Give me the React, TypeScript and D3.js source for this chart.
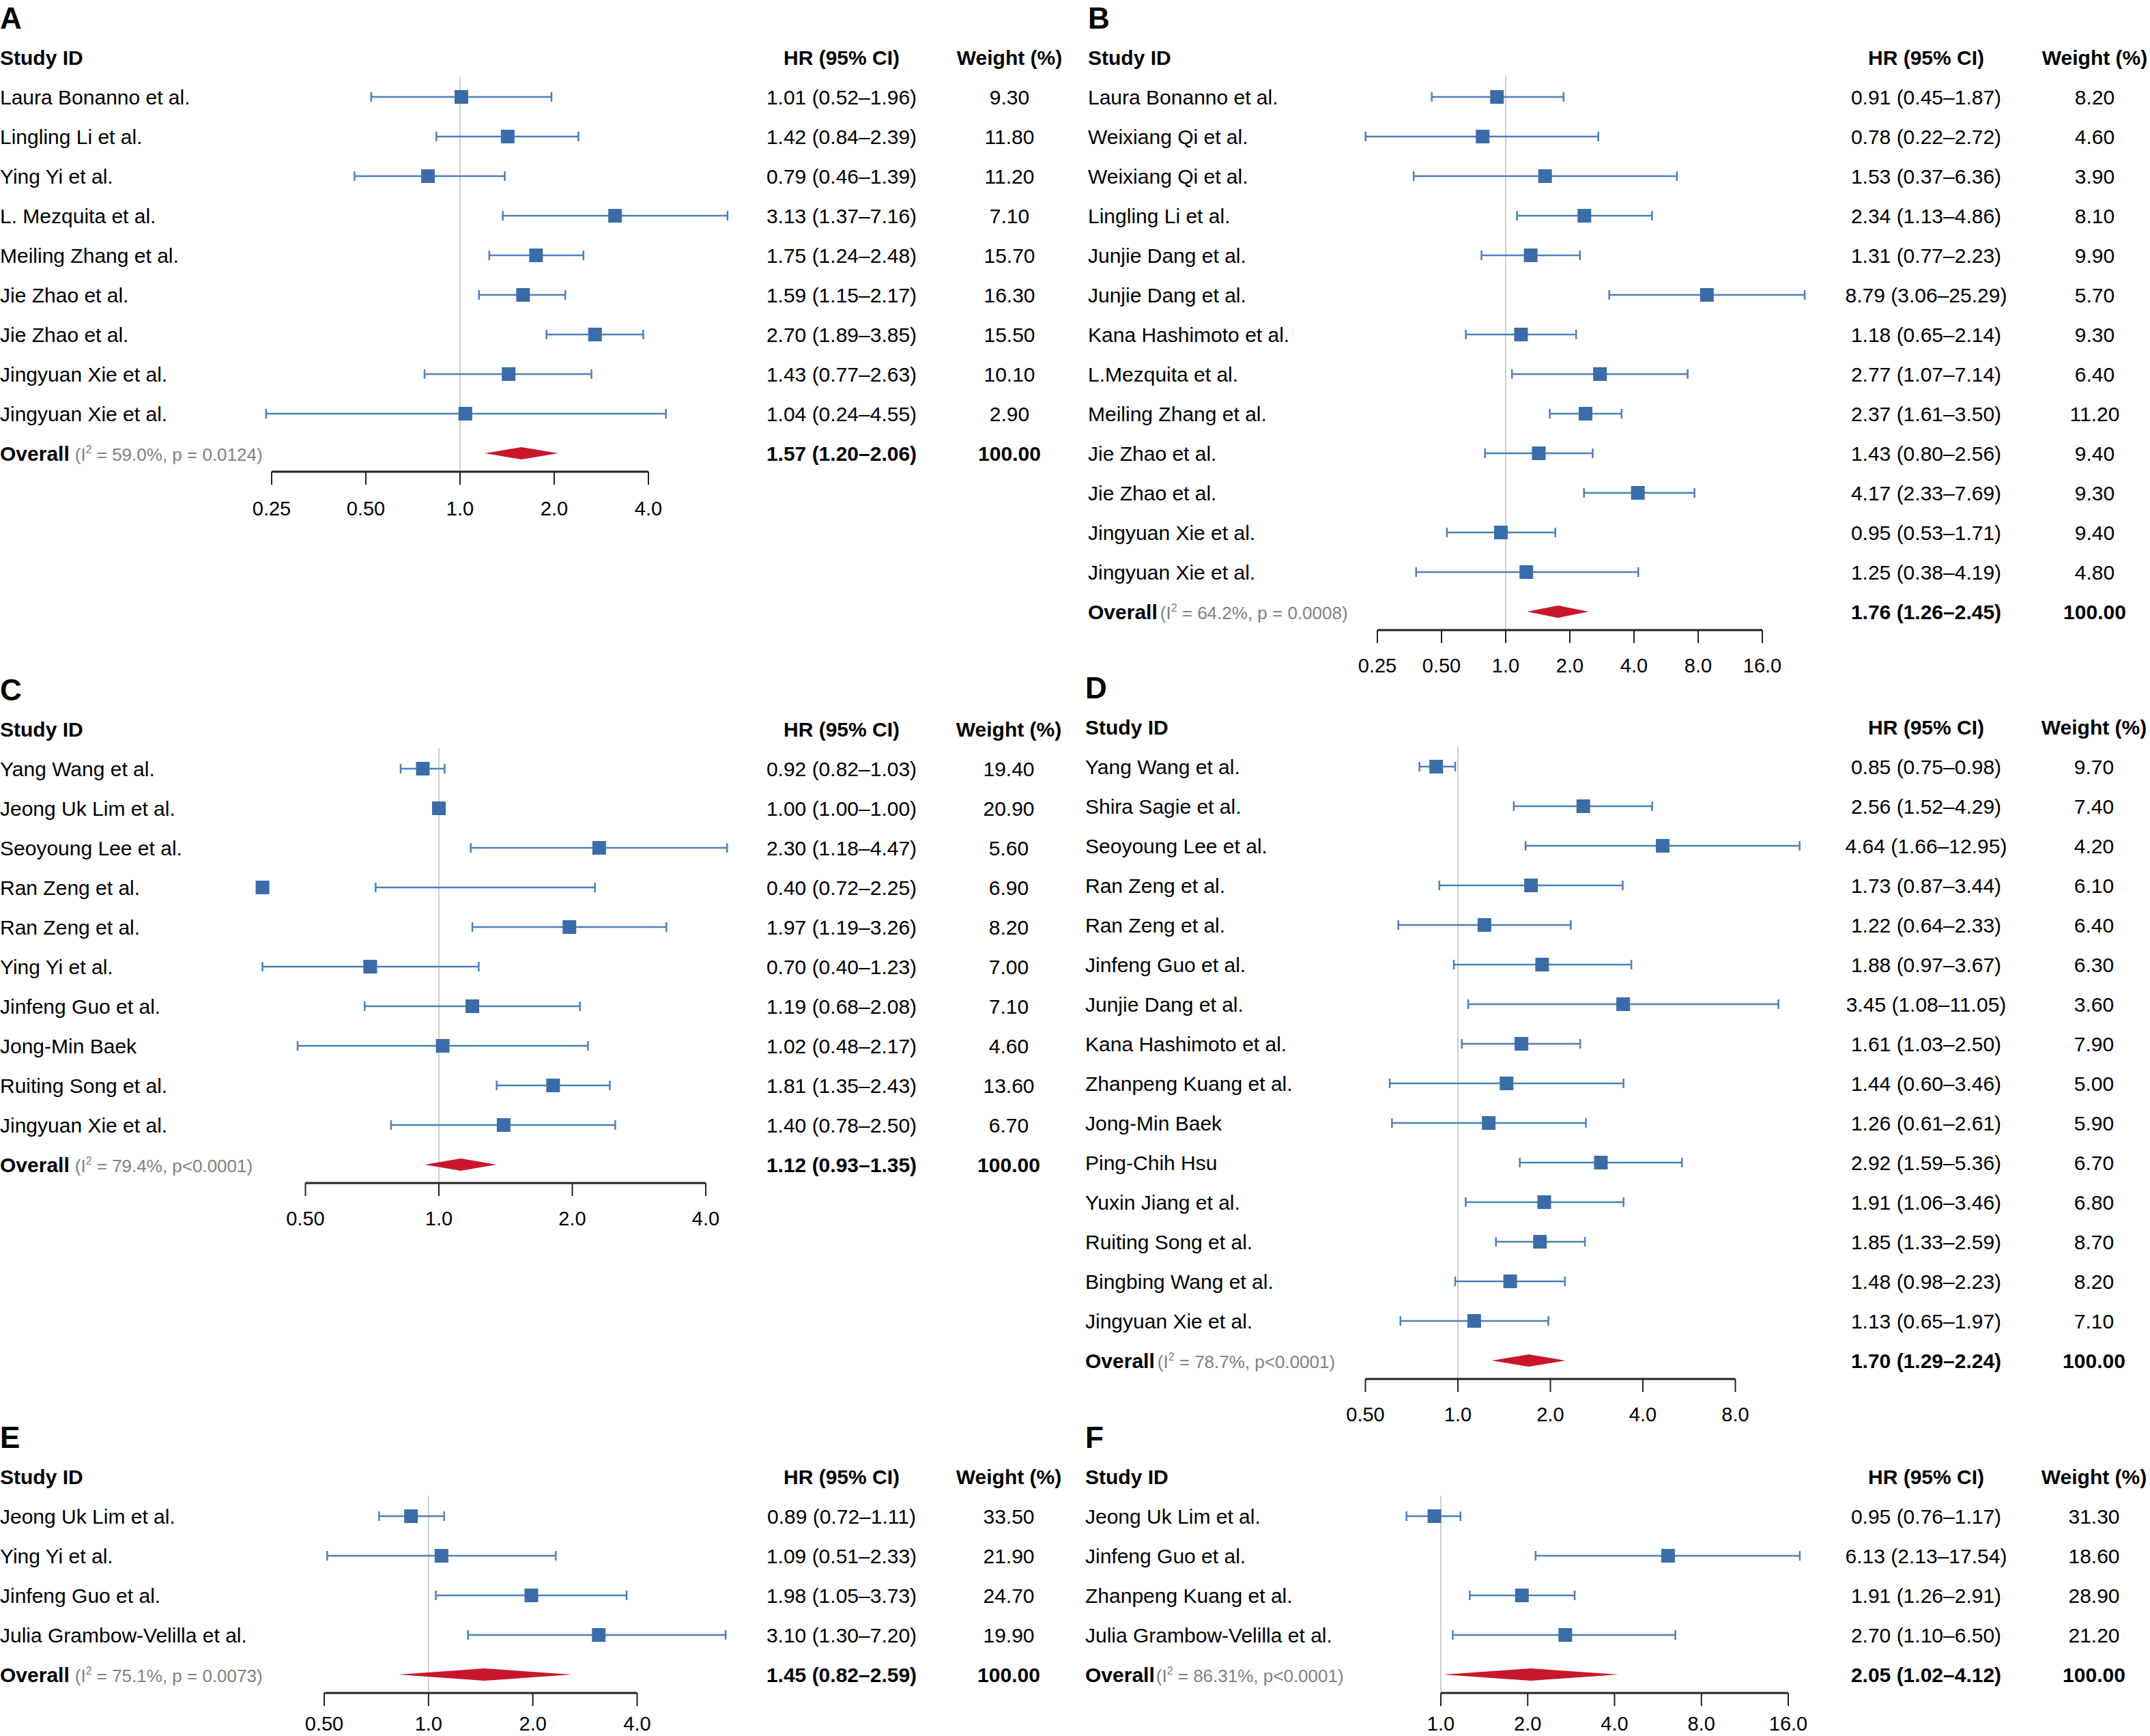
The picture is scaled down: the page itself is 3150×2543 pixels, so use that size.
import React from 'react';
import * as d3 from 'd3';

// ---- Panel A ----
const studiesA = ['Laura Bonanno et al.', 'Lingling Li et al.', 'Ying Yi et al.', 'L. Mezquita et al.', 'Meiling Zhang et al.', 'Jie Zhao et al.', 'Jie Zhao et al.', 'Jingyuan Xie et al.', 'Jingyuan Xie et al.'];
const hrA = [1.01, 1.42, 0.79, 3.13, 1.75, 1.59, 2.70, 1.43, 1.04];
const lowA = [0.52, 0.84, 0.46, 1.37, 1.24, 1.15, 1.89, 0.77, 0.24];
const highA = [1.96, 2.39, 1.39, 7.16, 2.48, 2.17, 3.85, 2.63, 4.55];
const weightA = [9.30, 11.80, 11.20, 7.10, 15.70, 16.30, 15.50, 10.10, 2.90];
const overallA = [1.57, 1.20, 2.06];
const hetA = ['59.0%, p = 0.0124'];
const ticksA = [0.25, 0.5, 1, 2, 4];
const tickLabelsA = ['0.25', '0.50', '1.0', '2.0', '4.0'];

// ---- Panel B ----
const studiesB = ['Laura Bonanno et al.', 'Weixiang Qi et al.', 'Weixiang Qi et al.', 'Lingling Li et al.', 'Junjie Dang et al.', 'Junjie Dang et al.', 'Kana Hashimoto et al.', 'L.Mezquita et al.', 'Meiling Zhang et al.', 'Jie Zhao et al.', 'Jie Zhao et al.', 'Jingyuan Xie et al.', 'Jingyuan Xie et al.'];
const hrB = [0.91, 0.78, 1.53, 2.34, 1.31, 8.79, 1.18, 2.77, 2.37, 1.43, 4.17, 0.95, 1.25];
const lowB = [0.45, 0.22, 0.37, 1.13, 0.77, 3.06, 0.65, 1.07, 1.61, 0.80, 2.33, 0.53, 0.38];
const highB = [1.87, 2.72, 6.36, 4.86, 2.23, 25.29, 2.14, 7.14, 3.50, 2.56, 7.69, 1.71, 4.19];
const weightB = [8.20, 4.60, 3.90, 8.10, 9.90, 5.70, 9.30, 6.40, 11.20, 9.40, 9.30, 9.40, 4.80];
const overallB = [1.76, 1.26, 2.45];
const hetB = ['64.2%, p = 0.0008'];
const ticksB = [0.25, 0.5, 1, 2, 4, 8, 16];
const tickLabelsB = ['0.25', '0.50', '1.0', '2.0', '4.0', '8.0', '16.0'];

// ---- Panel C ----
const studiesC = ['Yang Wang et al.', 'Jeong Uk Lim et al.', 'Seoyoung Lee et al.', 'Ran Zeng et al.', 'Ran Zeng et al.', 'Ying Yi et al.', 'Jinfeng Guo et al.', 'Jong-Min Baek', 'Ruiting Song et al.', 'Jingyuan Xie et al.'];
const hrC = [0.92, 1.00, 2.30, 0.40, 1.97, 0.70, 1.19, 1.02, 1.81, 1.40];
const lowC = [0.82, 1.00, 1.18, 0.72, 1.19, 0.40, 0.68, 0.48, 1.35, 0.78];
const highC = [1.03, 1.00, 4.47, 2.25, 3.26, 1.23, 2.08, 2.17, 2.43, 2.50];
const weightC = [19.40, 20.90, 5.60, 6.90, 8.20, 7.00, 7.10, 4.60, 13.60, 6.70];
const overallC = [1.12, 0.93, 1.35];
const hetC = ['79.4%, p<0.0001'];
const ticksC = [0.5, 1, 2, 4];
const tickLabelsC = ['0.50', '1.0', '2.0', '4.0'];

// ---- Panel D ----
const studiesD = ['Yang Wang et al.', 'Shira Sagie et al.', 'Seoyoung Lee et al.', 'Ran Zeng et al.', 'Ran Zeng et al.', 'Jinfeng Guo et al.', 'Junjie Dang et al.', 'Kana Hashimoto et al.', 'Zhanpeng Kuang et al.', 'Jong-Min Baek', 'Ping-Chih Hsu', 'Yuxin Jiang et al.', 'Ruiting Song et al.', 'Bingbing Wang et al.', 'Jingyuan Xie et al.'];
const hrD = [0.85, 2.56, 4.64, 1.73, 1.22, 1.88, 3.45, 1.61, 1.44, 1.26, 2.92, 1.91, 1.85, 1.48, 1.13];
const lowD = [0.75, 1.52, 1.66, 0.87, 0.64, 0.97, 1.08, 1.03, 0.60, 0.61, 1.59, 1.06, 1.33, 0.98, 0.65];
const highD = [0.98, 4.29, 12.95, 3.44, 2.33, 3.67, 11.05, 2.50, 3.46, 2.61, 5.36, 3.46, 2.59, 2.23, 1.97];
const weightD = [9.70, 7.40, 4.20, 6.10, 6.40, 6.30, 3.60, 7.90, 5.00, 5.90, 6.70, 6.80, 8.70, 8.20, 7.10];
const overallD = [1.70, 1.29, 2.24];
const hetD = ['78.7%, p<0.0001'];
const ticksD = [0.5, 1, 2, 4, 8];
const tickLabelsD = ['0.50', '1.0', '2.0', '4.0', '8.0'];

// ---- Panel E ----
const studiesE = ['Jeong Uk Lim et al.', 'Ying Yi et al.', 'Jinfeng Guo et al.', 'Julia Grambow-Velilla et al.'];
const hrE = [0.89, 1.09, 1.98, 3.10];
const lowE = [0.72, 0.51, 1.05, 1.30];
const highE = [1.11, 2.33, 3.73, 7.20];
const weightE = [33.50, 21.90, 24.70, 19.90];
const overallE = [1.45, 0.82, 2.59];
const hetE = ['75.1%, p = 0.0073'];
const ticksE = [0.5, 1, 2, 4];
const tickLabelsE = ['0.50', '1.0', '2.0', '4.0'];

// ---- Panel F ----
const studiesF = ['Jeong Uk Lim et al.', 'Jinfeng Guo et al.', 'Zhanpeng Kuang et al.', 'Julia Grambow-Velilla et al.'];
const hrF = [0.95, 6.13, 1.91, 2.70];
const lowF = [0.76, 2.13, 1.26, 1.10];
const highF = [1.17, 17.54, 2.91, 6.50];
const weightF = [31.30, 18.60, 28.90, 21.20];
const overallF = [2.05, 1.02, 4.12];
const hetF = ['86.31%, p<0.0001'];
const ticksF = [1, 2, 4, 8, 16];
const tickLabelsF = ['1.0', '2.0', '4.0', '8.0', '16.0'];

const FONT = '"Liberation Sans", Arial, Helvetica, sans-serif';
const SQUARE = '#3A6DA8';
const LINE = '#4C7FBA';
const DIAMOND = '#C8172B';
const ROW = 58;
const FS = 30;

interface PanelProps {
  letter: string;
  x0: number;
  headerY: number;
  hrX: number;
  wX: number;
  range: [number, number];
  studies: string[];
  hr: number[];
  low: number[];
  high: number[];
  weight: number[];
  overall: number[];
  het: string[];
  ticks: number[];
  tickLabels: string[];
  gap: number;
  labelDy: number;
}

const fmt = d3.format('.2f');

const Panel: React.FC<PanelProps> = (p) => {
  const x = d3
    .scaleLog()
    .domain([p.ticks[0], p.ticks[p.ticks.length - 1]])
    .range(p.range);
  const y = (i: number) => p.headerY + ROW * (i + 1);
  const overallY = y(p.studies.length);
  const axisY = overallY + 27;
  const [oHr, oLo, oHi] = p.overall;

  return (
    <g fontFamily={FONT}>
      <text x={p.x0} y={p.headerY - 42} fontSize={44} fontWeight="bold">
        {p.letter}
      </text>
      <text x={p.x0} y={p.headerY} dy="0.35em" fontSize={FS} fontWeight="bold">Study ID</text>
      <text x={p.hrX} y={p.headerY} dy="0.35em" fontSize={FS} fontWeight="bold" textAnchor="middle">HR (95% CI)</text>
      <text x={p.wX} y={p.headerY} dy="0.35em" fontSize={FS} fontWeight="bold" textAnchor="middle">Weight (%)</text>

      {/* reference line at HR = 1 */}
      <line x1={x(1)} x2={x(1)} y1={y(0) - 30} y2={axisY} stroke="#CFCFCF" strokeWidth={2} />

      {p.studies.map((s, i) => {
        const cy = y(i);
        return (
          <g key={i}>
            <text x={p.x0} y={cy} dy="0.35em" fontSize={FS}>{s}</text>
            {p.low[i] !== p.high[i] && (
              <g stroke={LINE} strokeWidth={2.5}>
                <line x1={x(p.low[i])} x2={x(p.high[i])} y1={cy} y2={cy} />
                <line x1={x(p.low[i])} x2={x(p.low[i])} y1={cy - 7} y2={cy + 7} />
                <line x1={x(p.high[i])} x2={x(p.high[i])} y1={cy - 7} y2={cy + 7} />
              </g>
            )}
            <rect x={x(p.hr[i]) - 10} y={cy - 10} width={20} height={20} fill={SQUARE} />
            <text x={p.hrX} y={cy} dy="0.35em" fontSize={FS} textAnchor="middle">
              {`${fmt(p.hr[i])} (${fmt(p.low[i])}–${fmt(p.high[i])})`}
            </text>
            <text x={p.wX} y={cy} dy="0.35em" fontSize={FS} textAnchor="middle">{fmt(p.weight[i])}</text>
          </g>
        );
      })}

      {/* overall row */}
      <text x={p.x0} y={overallY} dy="0.35em" fontSize={FS}>
        <tspan fontWeight="bold">Overall</tspan>
        <tspan fill="#808080" fontSize={26} dx={p.gap}>(I</tspan>
        <tspan fill="#808080" fontSize={16} dy={-11}>2</tspan>
        <tspan fill="#808080" fontSize={26} dy={11}>{` = ${p.het[0]})`}</tspan>
      </text>
      <path
        d={`M${x(oLo)},${overallY} L${x(oHr)},${overallY - 9} L${x(oHi)},${overallY} L${x(oHr)},${overallY + 9} Z`}
        fill={DIAMOND}
      />
      <text x={p.hrX} y={overallY} dy="0.35em" fontSize={FS} fontWeight="bold" textAnchor="middle">
        {`${fmt(oHr)} (${fmt(oLo)}–${fmt(oHi)})`}
      </text>
      <text x={p.wX} y={overallY} dy="0.35em" fontSize={FS} fontWeight="bold" textAnchor="middle">100.00</text>

      {/* axis */}
      <line x1={p.range[0]} x2={p.range[1]} y1={axisY} y2={axisY} stroke="#222" strokeWidth={3} />
      {p.ticks.map((t, i) => (
        <g key={t}>
          <line x1={x(t)} x2={x(t)} y1={axisY} y2={axisY + 19} stroke="#222" strokeWidth={2} />
          <text x={x(t)} y={axisY + p.labelDy} fontSize={29} textAnchor="middle">{p.tickLabels[i]}</text>
        </g>
      ))}
    </g>
  );
};

const App: React.FC = () => (
  <svg
    width={3150}
    height={2543}
    style={{ position: 'absolute', left: 0, top: 0, background: '#fff' }}
  >
    <rect width={3150} height={2543} fill="#fff" />
    <Panel letter="A" x0={0} headerY={84} hrX={1233} wX={1479} range={[398, 950]}
      studies={studiesA} hr={hrA} low={lowA} high={highA} weight={weightA}
      overall={overallA} het={hetA} ticks={ticksA} tickLabels={tickLabelsA} gap={8} labelDy={64} />
    <Panel letter="B" x0={1594} headerY={84} hrX={2822} wX={3069} range={[2018, 2582]}
      studies={studiesB} hr={hrB} low={lowB} high={highB} weight={weightB}
      overall={overallB} het={hetB} ticks={ticksB} tickLabels={tickLabelsB} gap={4} labelDy={62} />
    <Panel letter="C" x0={0} headerY={1068} hrX={1233} wX={1478} range={[447.5, 1034]}
      studies={studiesC} hr={hrC} low={lowC} high={highC} weight={weightC}
      overall={overallC} het={hetC} ticks={ticksC} tickLabels={tickLabelsC} gap={8} labelDy={62} />
    <Panel letter="D" x0={1590} headerY={1065} hrX={2822} wX={3068} range={[2000.5, 2542.5]}
      studies={studiesD} hr={hrD} low={lowD} high={highD} weight={weightD}
      overall={overallD} het={hetD} ticks={ticksD} tickLabels={tickLabelsD} gap={4} labelDy={62} />
    <Panel letter="E" x0={0} headerY={2163} hrX={1233} wX={1478} range={[475, 933.5]}
      studies={studiesE} hr={hrE} low={lowE} high={highE} weight={weightE}
      overall={overallE} het={hetE} ticks={ticksE} tickLabels={tickLabelsE} gap={8} labelDy={55} />
    <Panel letter="F" x0={1590} headerY={2163} hrX={2822} wX={3068} range={[2111, 2620]}
      studies={studiesF} hr={hrF} low={lowF} high={highF} weight={weightF}
      overall={overallF} het={hetF} ticks={ticksF} tickLabels={tickLabelsF} gap={2} labelDy={55} />
  </svg>
);

export default App;
